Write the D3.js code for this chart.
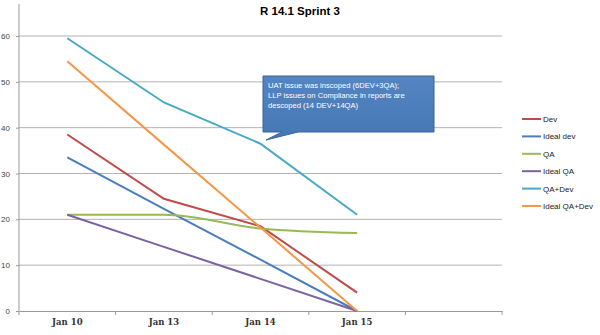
<!DOCTYPE html>
<html><head><meta charset="utf-8">
<script src="https://cdn.jsdelivr.net/npm/d3@7"></script>
<style>body{margin:0;background:#fff}svg{display:block}</style>
</head><body>
<script>
const categories = ["Jan 10","Jan 13","Jan 14","Jan 15",""];
const seriesNames = ["Dev","Ideal dev","QA","Ideal QA","QA+Dev","Ideal QA+Dev"];
const dev = [38.5, 24.5, 18.5, 4];
const idealDev = [33.5, 22.3, 11.2, 0];
const qa = [21, 21, 18, 17];
const idealQa = [21, 14, 7, 0];
const qaDev = [59.5, 45.5, 36.5, 21];
const idealQaDev = [54.5, 36.3, 18.2, 0];
const yTicks = [0,10,20,30,40,50,60];
const colors = ["#be4b48","#4a7ebb","#98b954","#7d60a0","#46aac5","#f79646"];
const calloutLines = ["UAT issue was inscoped (6DEV+3QA);","LLP issues  on Compliance in reports are","descoped (14 DEV+14QA)"];

const W=600,H=335;
const svg=d3.select("body").append("svg").attr("width",W).attr("height",H);
const x=d3.scaleBand().domain(categories.map((c,i)=>i)).range([19,502]);
const y=d3.scaleLinear().domain([0,60]).range([311,36]);

// gridlines
svg.append("g").selectAll("line").data(yTicks.filter(d=>d>0)).join("line")
 .attr("x1",19).attr("x2",502).attr("y1",d=>y(d)).attr("y2",d=>y(d))
 .attr("stroke","#b3b3b3").attr("stroke-width",1);

// y axis
const ya=svg.append("g").attr("transform","translate(19,0)").call(d3.axisLeft(y).tickValues(yTicks).tickSize(3).tickPadding(6));
ya.selectAll(".tick line").attr("stroke","#9a9a9a");
ya.selectAll("text").attr("font-family","Liberation Sans, Arial").attr("font-size",8).attr("fill","#444");
ya.select(".domain").attr("stroke","#9a9a9a").attr("d","M0,4V311");

// x axis
const xa=svg.append("g").attr("transform","translate(0,311)").call(d3.axisBottom(x).tickSize(0).tickPadding(8).tickFormat(i=>categories[i]));
xa.select(".domain").attr("stroke","#9a9a9a");
xa.selectAll("text").attr("font-family","DejaVu Serif, Liberation Serif, serif").attr("font-size",8.5).attr("font-weight","bold").attr("fill","#333");
// category boundary ticks
svg.append("g").selectAll("line").data(categories.map((c,i)=>i).concat([categories.length])).join("line")
 .attr("x1",d=>d<categories.length?x(d):x.range()[1]).attr("x2",d=>d<categories.length?x(d):x.range()[1])
 .attr("y1",311).attr("y2",315).attr("stroke","#9a9a9a");

const all=[dev,idealDev,qa,idealQa,qaDev,idealQaDev];
const cx=i=>x(i)+x.bandwidth()/2;
all.forEach((s,k)=>{
  const line=d3.line().x((d,i)=>cx(i)).y(d=>y(d)).curve(k===2?d3.curveMonotoneX:d3.curveLinear);
  svg.append("path").datum(s).attr("d",line).attr("fill","none").attr("stroke",colors[k]).attr("stroke-width",2);
});

// title
svg.append("text").attr("x",300).attr("y",15).attr("text-anchor","middle")
 .attr("font-family","Liberation Sans, Arial").attr("font-weight","bold").attr("font-size",11.5).attr("fill","#000").text("R 14.1 Sprint 3");

// legend
const lg=svg.append("g");
seriesNames.forEach((n,i)=>{
  const yy=119+i*17.4;
  lg.append("line").attr("x1",522).attr("x2",541).attr("y1",yy).attr("y2",yy).attr("stroke",colors[i]).attr("stroke-width",2);
  lg.append("text").attr("x",543).attr("y",yy+3).attr("font-family","Liberation Sans, Arial").attr("font-size",8).attr("fill","#222").text(n);
});

// callout
const cg=svg.append("g");
const defs=svg.append("defs");
const gr=defs.append("linearGradient").attr("id","cg").attr("x1",0).attr("y1",0).attr("x2",0).attr("y2",1);
gr.append("stop").attr("offset","0").attr("stop-color","#5485c2");
gr.append("stop").attr("offset","1").attr("stop-color","#4677b5");
cg.append("path").attr("d","M263,76H434V132H298L266,140L282,132H263Z")
 .attr("fill","url(#cg)").attr("stroke","#3a639a").attr("stroke-width",1);
calloutLines.forEach((t,i)=>{
  cg.append("text").attr("x",268).attr("y",88+i*10).attr("font-family","Liberation Sans, Arial").attr("font-size",7.6).attr("fill","#fff").text(t);
});
</script>
</body></html>
